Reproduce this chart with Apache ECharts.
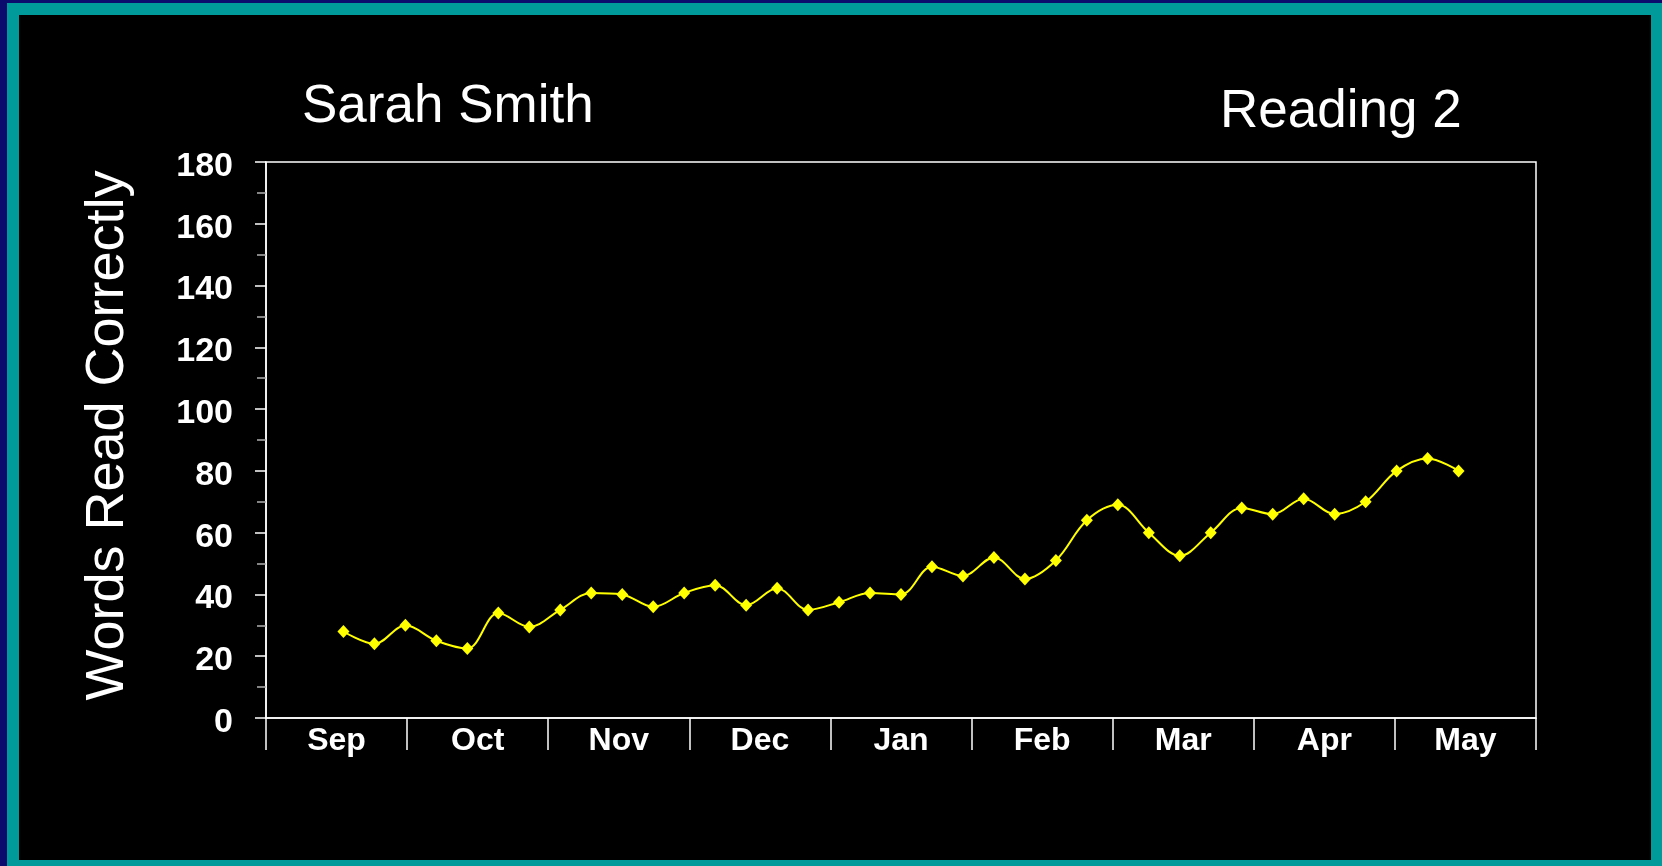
<!DOCTYPE html>
<html>
<head>
<meta charset="utf-8">
<title>Sarah Smith – Reading 2</title>
<script src="https://cdn.jsdelivr.net/npm/echarts@6/dist/echarts.min.js"></script>
<style>
  html, body { margin: 0; padding: 0; width: 1662px; height: 866px; overflow: hidden; background: #0b0b6e; }
  #frame { position: absolute; left: 7px; top: 3px; right: 0; bottom: 0; background: #009a9a; }
  #panel { position: absolute; left: 19px; top: 15px; width: 1632px; height: 845px; background: #000; }
  #chart { position: absolute; left: 0; top: 0; width: 1662px; height: 866px; }
</style>
</head>
<body>
<div id="frame"></div>
<div id="panel"></div>
<div id="chart"></div>
<script>
// Month labels along the bottom axis
const months = ['Sep', 'Oct', 'Nov', 'Dec', 'Jan', 'Feb', 'Mar', 'Apr', 'May'];
// Weekly probe scores: words read correctly, in order from the first week of September
const wordsRead = [28, 24, 30, 25, 22.5, 34, 29.5, 35, 40.5, 40,
                   36, 40.5, 43, 36.5, 42, 35, 37.5, 40.5, 40, 49,
                   46, 52, 45, 51, 64, 69, 60, 52.5, 60, 68,
                   66, 71, 66, 70, 80, 84, 80];
// Vertical scale
const yMin = 0, yMax = 180, yStep = 20;

const font = '"Liberation Sans", Arial, Helvetica, sans-serif';
const chart = echarts.init(document.getElementById('chart'), null, { renderer: 'canvas' });

// Weeks are numbered 1..N; the hidden week axis leaves room around the first and last week
const points = wordsRead.map((v, i) => [i + 1, v]);

chart.setOption({
  backgroundColor: 'transparent',
  animation: false,
  title: [
    { text: 'Sarah Smith', left: 302, top: 81, padding: 0,
      textStyle: { color: '#fff', fontFamily: font, fontSize: 53, fontWeight: 'normal' } },
    { text: 'Reading 2', left: 1220, top: 86, padding: 0,
      textStyle: { color: '#fff', fontFamily: font, fontSize: 53, fontWeight: 'normal' } }
  ],
  grid: {
    left: 266, top: 162, width: 1270, height: 556,
    show: true, borderColor: '#ffffff', borderWidth: 1.5, backgroundColor: 'transparent'
  },
  xAxis: [
    {
      type: 'category', data: months, boundaryGap: true,
      axisLine: { lineStyle: { color: '#ffffff', width: 1.5 } },
      axisTick: { show: true, length: 32, lineStyle: { color: '#ffffff', width: 1.5 } },
      axisLabel: { color: '#fff', fontFamily: font, fontSize: 32, fontWeight: 'bold', margin: 7 },
      splitLine: { show: false }
    },
    {
      type: 'value', min: -1.5, max: 39.5, show: false,
      splitLine: { show: false }
    }
  ],
  yAxis: {
    type: 'value', min: yMin, max: yMax, interval: yStep,
    name: 'Words Read Correctly', nameLocation: 'middle', nameRotate: 90, nameGap: 131,
    nameTextStyle: { color: '#fff', fontFamily: font, fontSize: 54, fontWeight: 'normal', padding: [0, 0, 0, 9] },
    axisLine: { show: true, onZero: false, lineStyle: { color: '#ffffff', width: 1.5 } },
    axisTick: { show: true, length: 11, lineStyle: { color: '#ffffff', width: 1.5 } },
    minorTick: { show: true, splitNumber: 2, length: 9, lineStyle: { color: '#b0b0b0', width: 1.5 } },
    axisLabel: {
      margin: 33,
      // a thin spacer line above each number sits the figures a little below their tick
      formatter: '{gap| }\n{num|{value}}',
      rich: {
        gap: { fontSize: 9, lineHeight: 9 },
        num: { color: '#fff', fontFamily: font, fontSize: 34, fontWeight: 'bold', lineHeight: 34 }
      }
    },
    splitLine: { show: false },
    minorSplitLine: { show: false }
  },
  series: [{
    type: 'line',
    xAxisIndex: 1,
    data: points,
    smooth: 0.35,
    symbol: 'diamond',
    symbolSize: [12, 13],
    lineStyle: { color: '#ffff00', width: 2 },
    itemStyle: { color: '#ffff00' }
  }]
});
</script>
</body>
</html>
